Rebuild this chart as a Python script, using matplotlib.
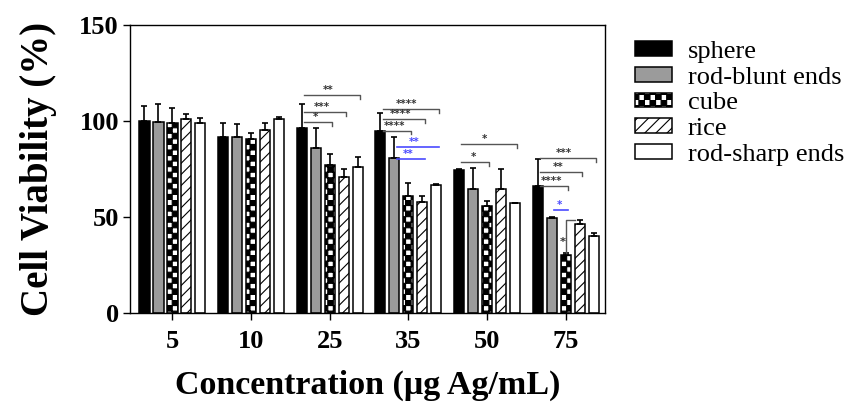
import warnings
warnings.filterwarnings("ignore")
import numpy as np
import matplotlib
matplotlib.use("Agg")
import matplotlib.pyplot as plt
import matplotlib.hatch as mhatch
from matplotlib.path import Path
from matplotlib.font_manager import FontProperties

# ---------------- data ----------------
concentrations = ['5', '10', '25', '35', '50', '75']
series_names = ['sphere', 'rod-blunt ends', 'cube', 'rice', 'rod-sharp ends']

sphere = [100.2, 91.5, 96.2, 94.9, 74.5, 66.1]
sphere_err = [7.8, 7.6, 12.7, 9.1, 0.5, 14.1]
rod_blunt = [99.3, 91.5, 85.8, 80.6, 64.6, 49.6]
rod_blunt_err = [9.7, 6.8, 10.4, 11.2, 10.7, 0.6]
cube = [98.8, 90.5, 77.1, 60.9, 55.9, 30.2]
cube_err = [8.0, 3.1, 5.5, 7.0, 2.6, 0.9]
rice = [100.9, 95.5, 71.0, 57.8, 64.8, 46.2]
rice_err = [2.9, 3.3, 4.0, 3.3, 10.0, 2.2]
rod_sharp = [98.8, 100.9, 76.2, 66.5, 57.1, 40.3]
rod_sharp_err = [2.9, 1.4, 5.2, 0.5, 0.0, 1.2]

# significance brackets: (group, from series, to series, level, label, highlighted)
brackets = [
    (2, 0, 4, 113.5, '**', False),
    (2, 0, 3, 104.8, '***', False),
    (2, 0, 2, 99.6, '*', False),
    (3, 0, 4, 106.3, '****', False),
    (3, 0, 3, 100.9, '****', False),
    (3, 0, 2, 95.0, '****', False),
    (3, 1, 4, 86.6, '**', True),
    (3, 1, 3, 80.2, '**', True),
    (4, 0, 4, 88.0, '*', False),
    (4, 0, 2, 78.8, '*', False),
    (5, 0, 4, 80.9, '***', False),
    (5, 0, 3, 73.6, '**', False),
    (5, 0, 2, 66.1, '****', False),
    (5, 1, 2, 53.6, '*', True),
]
# cube vs rice at 75: (group, from series, to series, level, label)
side_bracket = (5, 2, 3, 48.4, '*')

values = [sphere, rod_blunt, cube, rice, rod_sharp]
errors = [sphere_err, rod_blunt_err, cube_err, rice_err, rod_sharp_err]


# ---------------- checkerboard hatch ----------------
class CheckerHatch(mhatch.HatchPatternBase):
    def __init__(self, hatch, density):
        self.n = 18 if 'c' in hatch else 0
        self.num_vertices = (self.n * self.n // 2) * 5

    def set_vertices_and_codes(self, vertices, codes):
        n = self.n
        s = 1.0 / n
        k = 0
        for i in range(n):
            for j in range(n):
                if (i + j) % 2 == 0:
                    x0, y0 = i * s, j * s
                    vertices[k:k + 5] = [(x0, y0), (x0 + s, y0), (x0 + s, y0 + s),
                                         (x0, y0 + s), (x0, y0)]
                    codes[k:k + 5] = [Path.MOVETO, Path.LINETO, Path.LINETO,
                                      Path.LINETO, Path.CLOSEPOLY]
                    k += 5


if CheckerHatch not in mhatch._hatch_types:
    mhatch._hatch_types.append(CheckerHatch)

plt.rcParams['hatch.linewidth'] = 0.8

# ---------------- figure ----------------
fig = plt.figure(figsize=(8.46, 4.04), dpi=100)
ax = fig.add_axes([130 / 846, 1 - 313 / 404, 475 / 846, 288 / 404])

facecolors = ['black', '#9b9b9b', 'white', 'white', 'white']
hatches = [None, None, 'c', '///', None]
pitch = 0.178
width = 0.128
x = np.arange(len(concentrations))

for i, (vals, errs) in enumerate(zip(values, errors)):
    xi = x + (i - 2) * pitch
    ax.bar(xi, vals, width=width, color=facecolors[i], edgecolor='black',
           linewidth=1.1, hatch=hatches[i], label=series_names[i], zorder=2)
    ax.errorbar(xi, vals, yerr=[np.zeros(len(vals)), errs], fmt='none',
                ecolor='black', elinewidth=1.2, capsize=2.2, capthick=1.2, zorder=3)

black_line = '#555555'
blue = '#4a4aff'
star_size = 7.2
for g, a, b, lvl, lab, hl in brackets:
    x0 = g + (a - 2) * pitch + 0.03
    x1 = g + (b - 2) * pitch + 0.03
    if hl:
        ax.plot([x0, x1], [lvl, lvl], color=blue, lw=1.2, zorder=4)
        col = blue
    else:
        ax.plot([x0, x1, x1], [lvl, lvl, lvl - 2.0], color=black_line, lw=1.0, zorder=4)
        col = '#333333'
    ax.text(x0 + 0.42 * (x1 - x0), lvl + 1.0, lab, color=col, fontsize=star_size,
            ha='center', va='baseline', fontweight='bold', zorder=5)

g, a, b, lvl, lab = side_bracket
xa = g + (a - 2) * pitch + 0.01
xb = g + (b - 2) * pitch - width / 2
top_a = values[a][g] + errors[a][g]
ax.plot([xa, xa, xb], [top_a, lvl, lvl], color=black_line, lw=1.0, zorder=4)
ax.text(xa - 0.05, (top_a + lvl) / 2 - 3, lab, color='#333333', fontsize=star_size + 1,
        ha='center', va='center', fontweight='bold', zorder=5)

ax.set_xlim(-0.54, 5.5)
ax.set_ylim(0, 150)
ax.set_yticks([0, 50, 100, 150])
ax.set_xticks(x)
ax.set_xticklabels(concentrations)

tick_fp = FontProperties(family='Liberation Serif', weight='bold', size=19)
for lab in ax.get_xticklabels() + ax.get_yticklabels():
    lab.set_fontproperties(tick_fp)
ax.tick_params(axis='both', direction='out', length=5, width=1.0, pad=3)
ax.tick_params(axis='x', pad=7)
for sp in ax.spines.values():
    sp.set_linewidth(1.0)

ax.set_xlabel('Concentration (μg Ag/mL)', family='Liberation Serif',
              weight='bold', size=24.5, labelpad=12)
ax.set_ylabel('Cell Viability (%)', family='Liberation Serif',
              weight='bold', size=28, labelpad=16)

leg = fig.legend(loc='upper left', bbox_to_anchor=(635 / 846, 1 - 41 / 404),
                 frameon=False, prop=dict(family='Liberation Serif', size=19),
                 handlelength=1.4, handleheight=0.49, handletextpad=0.6,
                 labelspacing=0.14, borderaxespad=0, borderpad=0)

fig.savefig('out.png', dpi=100)
